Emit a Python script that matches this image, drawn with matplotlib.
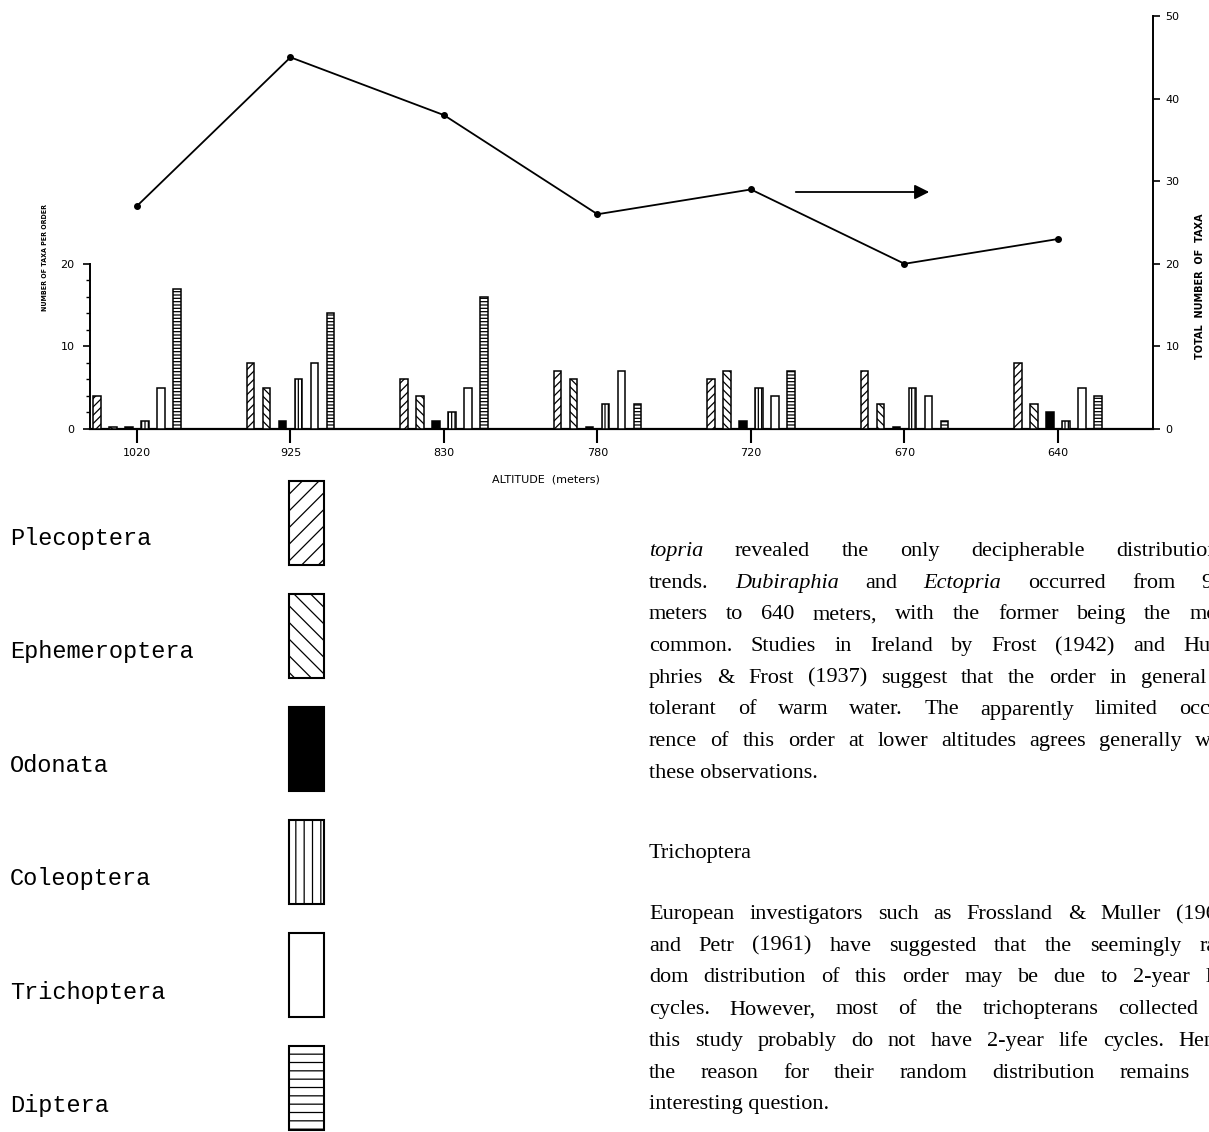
import matplotlib
matplotlib.use('Agg')
import matplotlib.pyplot as plt
import numpy as np
from matplotlib.patches import Rectangle

# ---------------- data ----------------
altitudes = ['1020', '925', '830', '780', '720', '670', '640']
orders = ['Plecoptera', 'Ephemeroptera', 'Odonata', 'Coleoptera', 'Trichoptera', 'Diptera']
plecoptera = [4, 8, 6, 7, 6, 7, 8]
ephemeroptera = [0.2, 5, 4, 6, 7, 3, 3]
odonata = [0.2, 1, 1, 0.3, 1, 0.3, 2]
coleoptera = [1, 6, 2, 3, 5, 5, 1]
trichoptera = [5, 8, 5, 7, 4, 4, 5]
diptera = [17, 14, 16, 3, 7, 1, 4]
total_taxa = [27, 45, 38, 26, 29, 20, 23]
left_ticks = [0, 10, 20]
right_ticks = [0, 10, 20, 30, 40, 50]

series = [plecoptera, ephemeroptera, odonata, coleoptera, trichoptera, diptera]

# ---------------- styles ----------------
bar_hatches = ['////', '\\\\\\\\', '', '|||||', '', '-----']
legend_hatches = ['//', '\\\\', '', '||', '', '--']
faces = ['white', 'white', 'black', 'white', 'white', 'white']

plt.rcParams['hatch.linewidth'] = 0.9

W, H = 1209, 1132
fig = plt.figure(figsize=(W / 100, H / 100), dpi=100)
fig.patch.set_facecolor('white')


def fx(px):
    return px / W


def fy(py):
    return 1 - py / H


# ---------------- main chart ----------------
ax = fig.add_axes([fx(90), fy(429), (1153 - 90) / W, (429 - 16) / H])
ax.set_facecolor('none')
ax.set_xlim(-0.306, 6.619)
ax.set_ylim(0, 50)

x = np.arange(len(altitudes))
step = 0.104
width = 0.05
for i, vals in enumerate(series):
    ax.bar(x + (i - 2.5) * step, vals, width=width, facecolor=faces[i],
           edgecolor='black', hatch=bar_hatches[i], linewidth=1.1, zorder=3)

for s in ['top', 'right']:
    ax.spines[s].set_visible(False)
ax.spines['left'].set_bounds(0, 20)
ax.spines['left'].set_linewidth(1.4)
ax.spines['bottom'].set_linewidth(1.6)

ax.set_yticks(left_ticks)
ax.set_yticklabels([str(t) for t in left_ticks])
ax.set_yticks(np.arange(0, 21, 2), minor=True)
ax.tick_params(axis='y', which='major', length=5, width=1.2, labelsize=8, pad=6)
ax.tick_params(axis='y', which='minor', length=3, width=1.0)
ax.set_xticks(x)
ax.set_xticklabels(altitudes)
ax.tick_params(axis='x', which='major', length=10, width=1.5, labelsize=8, pad=4)

ax2 = ax.twinx()
ax2.set_ylim(0, 50)
for s in ['top', 'left', 'bottom']:
    ax2.spines[s].set_visible(False)
ax2.spines['right'].set_linewidth(1.4)
ax2.set_yticks(right_ticks)
ax2.set_yticklabels([str(t) for t in right_ticks])
ax2.tick_params(axis='y', length=5, width=1.2, labelsize=8, pad=4)
ax2.plot(x, total_taxa, color='black', lw=1.3, marker='o', ms=4, zorder=4)

fig.text(fx(45), fy(257), 'NUMBER OF TAXA PER ORDER', rotation=90,
         ha='center', va='center', fontsize=5, fontweight='bold', fontstretch='condensed')
fig.text(fx(1200), fy(286), 'TOTAL  NUMBER  OF  TAXA', rotation=90,
         ha='center', va='center', fontsize=7, fontweight='bold')
fig.text(fx(546), fy(479), 'ALTITUDE  (meters)', ha='center', va='center', fontsize=8)

ax.annotate('', xy=(932, H - 192), xytext=(793, H - 192), xycoords='figure pixels',
            textcoords='figure pixels',
            arrowprops=dict(arrowstyle='-|>', lw=1.3, color='black', mutation_scale=22))

# ---------------- legend ----------------
lax = fig.add_axes([0, fy(1132), fx(400), (1132 - 470) / H])
lax.set_xlim(0, 400)
lax.set_ylim(1132, 470)
lax.axis('off')
for i, name in enumerate(orders):
    top = 481 + 113 * i
    lax.add_patch(Rectangle((289, top), 35, 84, facecolor=faces[i], edgecolor='black',
                            hatch=legend_hatches[i], linewidth=1.5, clip_on=False))
    lax.text(10, 545 + 113.4 * i, name, fontfamily='Liberation Mono', fontsize=17,
             va='baseline', ha='left')

# ---------------- body text ----------------
para1 = [
    [('topria', True), 'revealed', 'the', 'only', 'decipherable', 'distributional'],
    ['trends.', ('Dubiraphia', True), 'and', ('Ectopria', True), 'occurred', 'from', '925'],
    ['meters', 'to', '640', 'meters,', 'with', 'the', 'former', 'being', 'the', 'more'],
    ['common.', 'Studies', 'in', 'Ireland', 'by', 'Frost', '(1942)', 'and', 'Hum-'],
    ['phries', '&', 'Frost', '(1937)', 'suggest', 'that', 'the', 'order', 'in', 'general', 'is'],
    ['tolerant', 'of', 'warm', 'water.', 'The', 'apparently', 'limited', 'occur-'],
    ['rence', 'of', 'this', 'order', 'at', 'lower', 'altitudes', 'agrees', 'generally', 'with'],
]
para1_last = 'these observations.'
heading = 'Trichoptera'
para2 = [
    ['European', 'investigators', 'such', 'as', 'Frossland', '&', 'Muller', '(1962)'],
    ['and', 'Petr', '(1961)', 'have', 'suggested', 'that', 'the', 'seemingly', 'ran-'],
    ['dom', 'distribution', 'of', 'this', 'order', 'may', 'be', 'due', 'to', '2-year', 'life'],
    ['cycles.', 'However,', 'most', 'of', 'the', 'trichopterans', 'collected', 'in'],
    ['this', 'study', 'probably', 'do', 'not', 'have', '2-year', 'life', 'cycles.', 'Hence'],
    ['the', 'reason', 'for', 'their', 'random', 'distribution', 'remains', 'an'],
]
para2_last = 'interesting question.'

FONT = 'Liberation Serif'
FS = 16
LEFT, RIGHT = 649, 1235
renderer = fig.canvas.get_renderer()


def justify(words, baseline):
    items = []
    for w in words:
        if isinstance(w, tuple):
            txt, it = w
        else:
            txt, it = w, False
        t = fig.text(0, fy(baseline), txt, fontfamily=FONT, fontsize=FS,
                     fontstyle='italic' if it else 'normal', va='baseline', ha='left')
        bb = t.get_window_extent(renderer)
        items.append((t, bb.width))
    total = sum(wd for _, wd in items)
    gap = (RIGHT - LEFT - total) / max(len(items) - 1, 1)
    gap = max(gap, 3)
    pos = LEFT
    for t, wd in items:
        t.set_x(fx(pos))
        pos += wd + gap


lh = 31.7
for i, line in enumerate(para1):
    justify(line, 556 + lh * i)
fig.text(fx(LEFT), fy(556 + lh * 7), para1_last, fontfamily=FONT, fontsize=FS, va='baseline')
fig.text(fx(LEFT), fy(858), heading, fontfamily=FONT, fontsize=FS, va='baseline')
for i, line in enumerate(para2):
    justify(line, 919 + lh * i)
fig.text(fx(LEFT), fy(919 + lh * 6), para2_last, fontfamily=FONT, fontsize=FS, va='baseline')

fig.savefig('out.png', dpi=100, facecolor='white')
